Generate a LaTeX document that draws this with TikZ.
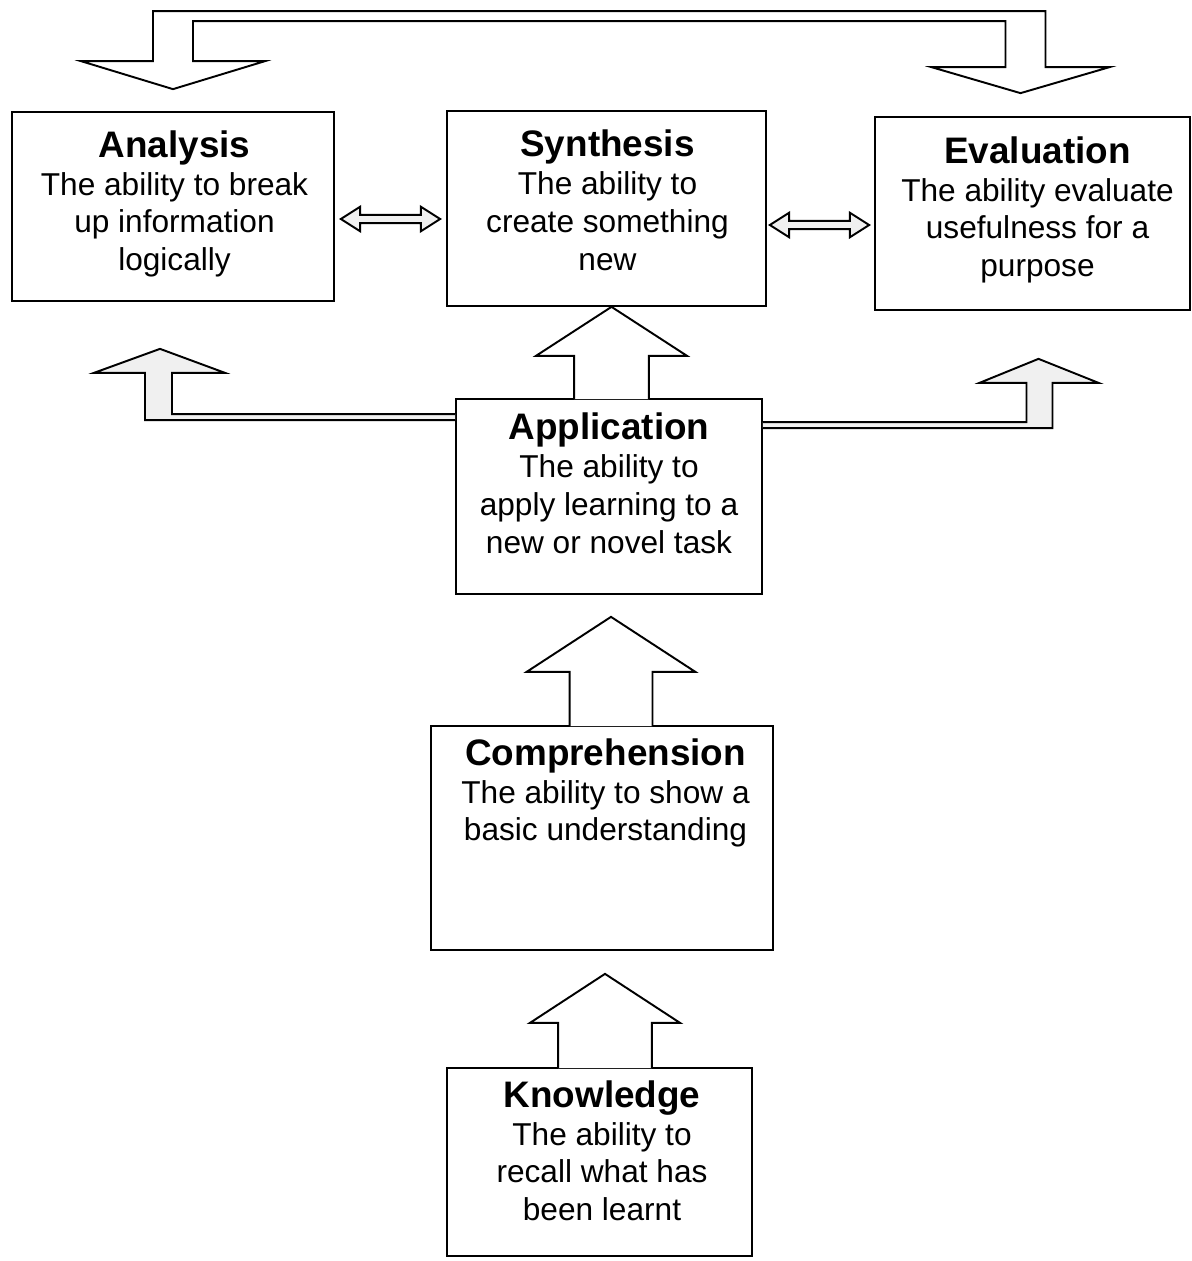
\documentclass[tikz,border=0pt]{standalone}
\usepackage{fontspec}
\setmainfont{Liberation Sans}
\usetikzlibrary{positioning,calc}
% block arrow pointing up: base, tip, shaft half width, head half width, head length
\newcommand\blockup[5]{%
	\filldraw[bigarrow] let \p1=#1, \p2=#2 in
	(\x2-#3,\y1-0.6pt) -- (\x2-#3,\y2-#5) -- (\x2-#4,\y2-#5) -- (\p2)
	-- (\x2+#4,\y2-#5) -- (\x2+#3,\y2-#5) -- (\x2+#3,\y1-0.6pt);}
% double headed block arrow
\newcommand\dblarrow[2]{%
	\filldraw[sidearrow] let \p1=#1, \p2=#2 in
	(\p1) -- (\x1+11pt,\y1+7pt) -- (\x1+11pt,\y1+2.3pt) -- (\x2-11pt,\y1+2.3pt)
	-- (\x2-11pt,\y1+7pt) -- (\x2,\y1) -- (\x2-11pt,\y1-7pt) -- (\x2-11pt,\y1-2.3pt)
	-- (\x1+11pt,\y1-2.3pt) -- (\x1+11pt,\y1-7pt) -- cycle;}
\newcommand\ttl[1]{{\fontsize{21pt}{22.5pt}\selectfont\bfseries #1}}
\begin{document}
\begin{tikzpicture}[x=0.02cm,y=-0.02cm,line join=miter,font=\fontsize{18pt}{21.5pt}\selectfont,
	box/.style={draw,line width=1pt,inner sep=0pt},
	txt/.style={align=center,inner sep=0pt},
	bigarrow/.style={draw,fill=white,line width=1.1pt},
	sidearrow/.style={draw,fill=gray!12,line width=1.1pt}]
	\useasboundingbox (0,0) rectangle (1192,1261);
	% boxes
	\node[box,minimum width=6.44cm,minimum height=3.78cm] (ana) at (173,206.5) {};
	\node[box,minimum width=6.38cm,minimum height=3.9cm] (syn) at (606.5,208.5) {};
	\node[box,minimum width=6.3cm,minimum height=3.86cm] (eva) at (1032.5,213.5) {};
	\node[box,minimum width=6.12cm,minimum height=3.9cm] (app) at (609,496.5) {};
	\node[box,minimum width=6.84cm,minimum height=4.48cm] (com) at (602,838) {};
	\node[box,minimum width=6.1cm,minimum height=3.76cm] (kno) at (599.5,1162) {};
	% texts
	\node[txt,below=0.38cm of ana.north,xshift=0.03cm] (ana-t) {\ttl{Analysis}\\The ability to break\\up information\\logically};
	\node[txt,below=0.39cm of syn.north,xshift=0.02cm] (syn-t) {\ttl{Synthesis}\\The ability to\\create something\\new};
	\node[txt,below=0.40cm of eva.north,xshift=0.1cm] (eva-t) {\ttl{Evaluation}\\The ability evaluate\\usefulness for a\\purpose};
	\node[txt,below=0.29cm of app.north] (app-t) {\ttl{Application}\\The ability to\\apply learning to a\\new or novel task};
	\node[txt,below=0.26cm of com.north,xshift=0.07cm] (com-t) {\ttl{Comprehension}\\The ability to show a\\basic understanding};
	\node[txt,below=0.26cm of kno.north,xshift=0.05cm] (kno-t) {\ttl{Knowledge}\\The ability to\\recall what has\\been learnt};
	% arrows up the middle
	\blockup{(app.north)}{($(syn.south)+(5,0)$)}{21.3pt}{43pt}{27.9pt}
	\blockup{(com.north)}{($(app.south)+(2,22)$)}{23.6pt}{48pt}{31.3pt}
	\blockup{(kno.north)}{($(com.south)+(3,23)$)}{26.7pt}{42.7pt}{27.9pt}
	% side arrows from application
	\coordinate (sl) at ($(ana.south)+(-13,47)$);
	\coordinate (sr) at ($(eva.south)+(6,48)$);
	\filldraw[sidearrow] ($(app.north west)+(0,16)$) -| ($(sl)+(12,24)$) -- ($(sl)+(65,24)$) -- (sl)
		-- ($(sl)+(-66,24)$) -- ($(sl)+(-15,24)$) |- ($(app.north west)+(0,22)$);
	\filldraw[sidearrow] ($(app.north east)+(0,24)$) -| ($(sr)+(-12,24)$) -- ($(sr)+(-59,24)$) -- (sr)
		-- ($(sr)+(60,24)$) -- ($(sr)+(14,24)$) |- ($(app.north east)+(0,30)$);
	% top arrow
	\coordinate (tl) at ($(ana.north)+(0,-22)$);
	\coordinate (tr) at ($(eva.north)+(-12,-23)$);
	\filldraw[bigarrow] ($(tl)+(-92,-28)$) -- (tl) -- ($(tl)+(92,-28)$) -- ($(tl)+(20,-28)$)
		-- ($(tl)+(20,-68)$) -- ($(tr)+(-15,-72)$) -- ($(tr)+(-15,-26)$) -- ($(tr)+(-89,-26)$)
		-- (tr) -- ($(tr)+(89,-26)$) -- ($(tr)+(25,-26)$) -- ($(tr)+(25,-82)$)
		-- ($(tl)+(-20,-78)$) -- ($(tl)+(-20,-28)$) -- cycle;
	% double arrows
	\coordinate (d1a) at ($(ana.east)+(6,12.5)$);
	\coordinate (d1b) at ($(syn.west)+(-6,10.5)$);
	\coordinate (d2a) at ($(syn.east)+(3,16.5)$);
	\coordinate (d2b) at ($(eva.west)+(-5,11.5)$);
	\dblarrow{(d1a)}{(d1b)}
	\dblarrow{(d2a)}{(d2b)}
\end{tikzpicture}
\end{document}
